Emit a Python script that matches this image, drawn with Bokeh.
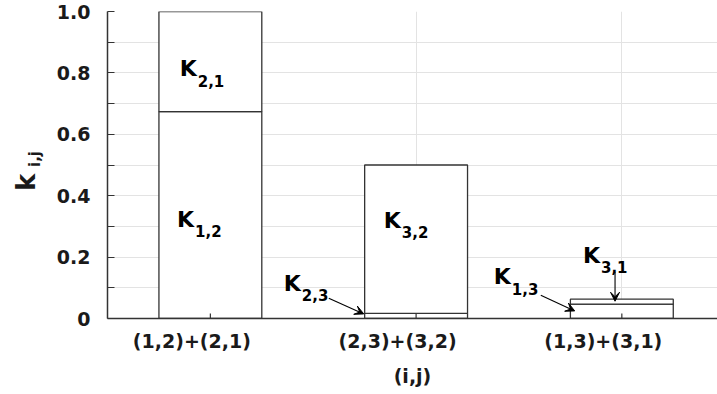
import math
from bokeh.plotting import figure
from bokeh.layouts import row
from bokeh.models import (ColumnDataSource, FixedTicker, Label, Arrow, VeeHead, Range1d, Div)
from bokeh.embed import file_html
from bokeh.resources import INLINE

# ---- data ----
categories = ["(1,2)+(2,1)", "(2,3)+(3,2)", "(1,3)+(3,1)"]
lower_vals = [0.674, 0.017, 0.047]   # K_{1,2}, K_{2,3}, K_{1,3}
upper_vals = [0.326, 0.483, 0.016]   # K_{2,1}, K_{3,2}, K_{3,1}
lower_subs = ["1,2", "2,3", "1,3"]
upper_subs = ["2,1", "3,2", "3,1"]
y_ticks = [0, 0.2, 0.4, 0.6, 0.8, 1.0]
y_tick_labels = ["0", "0.2", "0.4", "0.6", "0.8", "1.0"]
y_minor = [0.1, 0.3, 0.5, 0.7, 0.9]
x_label = "(i,j)"
y_label_main = "k"
y_label_sub = "i,j"

FONT = "DejaVu Sans"
INK = "#1a1a1a"
H = 392
TOP = 11
BOTTOM = 74
LEFT_W = 50
LABEL_SHIFT = -0.09   # category labels sit slightly left of their ticks

xs = list(range(1, len(categories) + 1))
src = ColumnDataSource(dict(x=xs, lower=lower_vals, upper=upper_vals))

# ---- rotated y-axis title (HTML text, rotated with CSS) ----
ytitle_html = (
    '<div style="position:relative;width:50px;height:50px;margin-top:145px;'
    'transform:rotate(-90deg);font-family:\'DejaVu Sans\';font-weight:bold;color:%s;">'
    '<span style="position:absolute;left:4px;top:13px;font-size:26px;line-height:26px;">%s</span>'
    '<span style="position:absolute;left:28px;top:28px;font-size:15px;line-height:15px;">%s</span>'
    '</div>' % (INK, y_label_main, y_label_sub)
)
yl = Div(text=ytitle_html, width=LEFT_W, height=H, margin=0)

# ---- main chart ----
p = figure(width=717 - LEFT_W, height=H, output_backend="svg", toolbar_location=None,
           x_range=Range1d(0.5, 3.465), y_range=Range1d(0, 1.0),
           min_border_left=107 - LEFT_W, min_border_right=0,
           min_border_top=TOP, min_border_bottom=BOTTOM)
p.outline_line_color = None
p.background_fill_color = "white"
p.border_fill_color = "white"

p.vbar_stack(["lower", "upper"], x="x", width=0.5, source=src,
             fill_color="white", line_color="#333333", line_width=1.3)

# small inward tick marks at the category centres
p.ray(x=xs, y=[0] * len(xs), length=5, length_units="screen", angle=math.pi / 2,
      line_color="#333333", line_width=1.2)

for ax in (p.xaxis[0], p.yaxis[0]):
    ax.axis_line_color = "#333333"
    ax.axis_line_width = 1.5
    ax.major_tick_line_color = "#333333"
    ax.minor_tick_line_color = "#333333"
    ax.major_tick_out = 0
    ax.minor_tick_out = 0
    ax.major_label_text_font = FONT
    ax.major_label_text_font_style = "bold"
    ax.major_label_text_font_size = "19px"
    ax.major_label_text_color = INK

label_pos = [x + LABEL_SHIFT for x in xs]
p.xaxis.ticker = FixedTicker(ticks=label_pos)
p.xaxis.major_label_overrides = {x: c for x, c in zip(label_pos, categories)}
p.xaxis.major_tick_in = 0
p.xaxis.major_label_standoff = 11
p.xaxis.axis_label = x_label
p.xaxis.axis_label_text_font = FONT
p.xaxis.axis_label_text_font_style = "bold"
p.xaxis.axis_label_text_font_size = "19px"
p.xaxis.axis_label_text_color = INK
p.xaxis.axis_label_standoff = 10

p.yaxis.ticker = FixedTicker(ticks=y_ticks, minor_ticks=y_minor)
p.yaxis.major_label_overrides = {t: s for t, s in zip(y_ticks, y_tick_labels)}
p.yaxis.major_tick_in = 7
p.yaxis.minor_tick_in = 7
p.yaxis.major_label_standoff = 17

p.xgrid.ticker = FixedTicker(ticks=xs)
p.xgrid.grid_line_color = "#e3e3e3"
p.ygrid.grid_line_color = "#e3e3e3"
p.ygrid.minor_grid_line_color = "#e3e3e3"

def klabel(x, y, sub):
    p.add_layout(Label(x=x, y=y, text="K", text_font=FONT, text_font_style="bold",
                       text_font_size="22px", text_color="black",
                       text_align="left", text_baseline="alphabetic"))
    p.add_layout(Label(x=x, y=y, x_offset=18, y_offset=-12, text=sub, text_font=FONT,
                       text_font_style="bold", text_font_size="15px", text_color="black",
                       text_align="left", text_baseline="alphabetic"))

klabel(0.851, 0.814, upper_subs[0])
klabel(0.838, 0.323, lower_subs[0])
klabel(1.357, 0.115, lower_subs[1])
klabel(1.843, 0.320, upper_subs[1])
klabel(2.378, 0.136, lower_subs[2])
klabel(2.811, 0.206, upper_subs[2])

def arrow(x0, y0, x1, y1):
    p.add_layout(Arrow(end=VeeHead(size=9, fill_color="black", line_color="black", line_width=1),
                       x_start=x0, y_start=y0, x_end=x1, y_end=y1,
                       line_color="black", line_width=1.1))

arrow(1.5756, 0.066, 1.7457, 0.015)
arrow(2.606, 0.0759, 2.771, 0.0247)
arrow(2.967, 0.1515, 2.967, 0.0562)

layout = row(yl, p, spacing=0)
open("out.html", "w").write(file_html(layout, INLINE))
